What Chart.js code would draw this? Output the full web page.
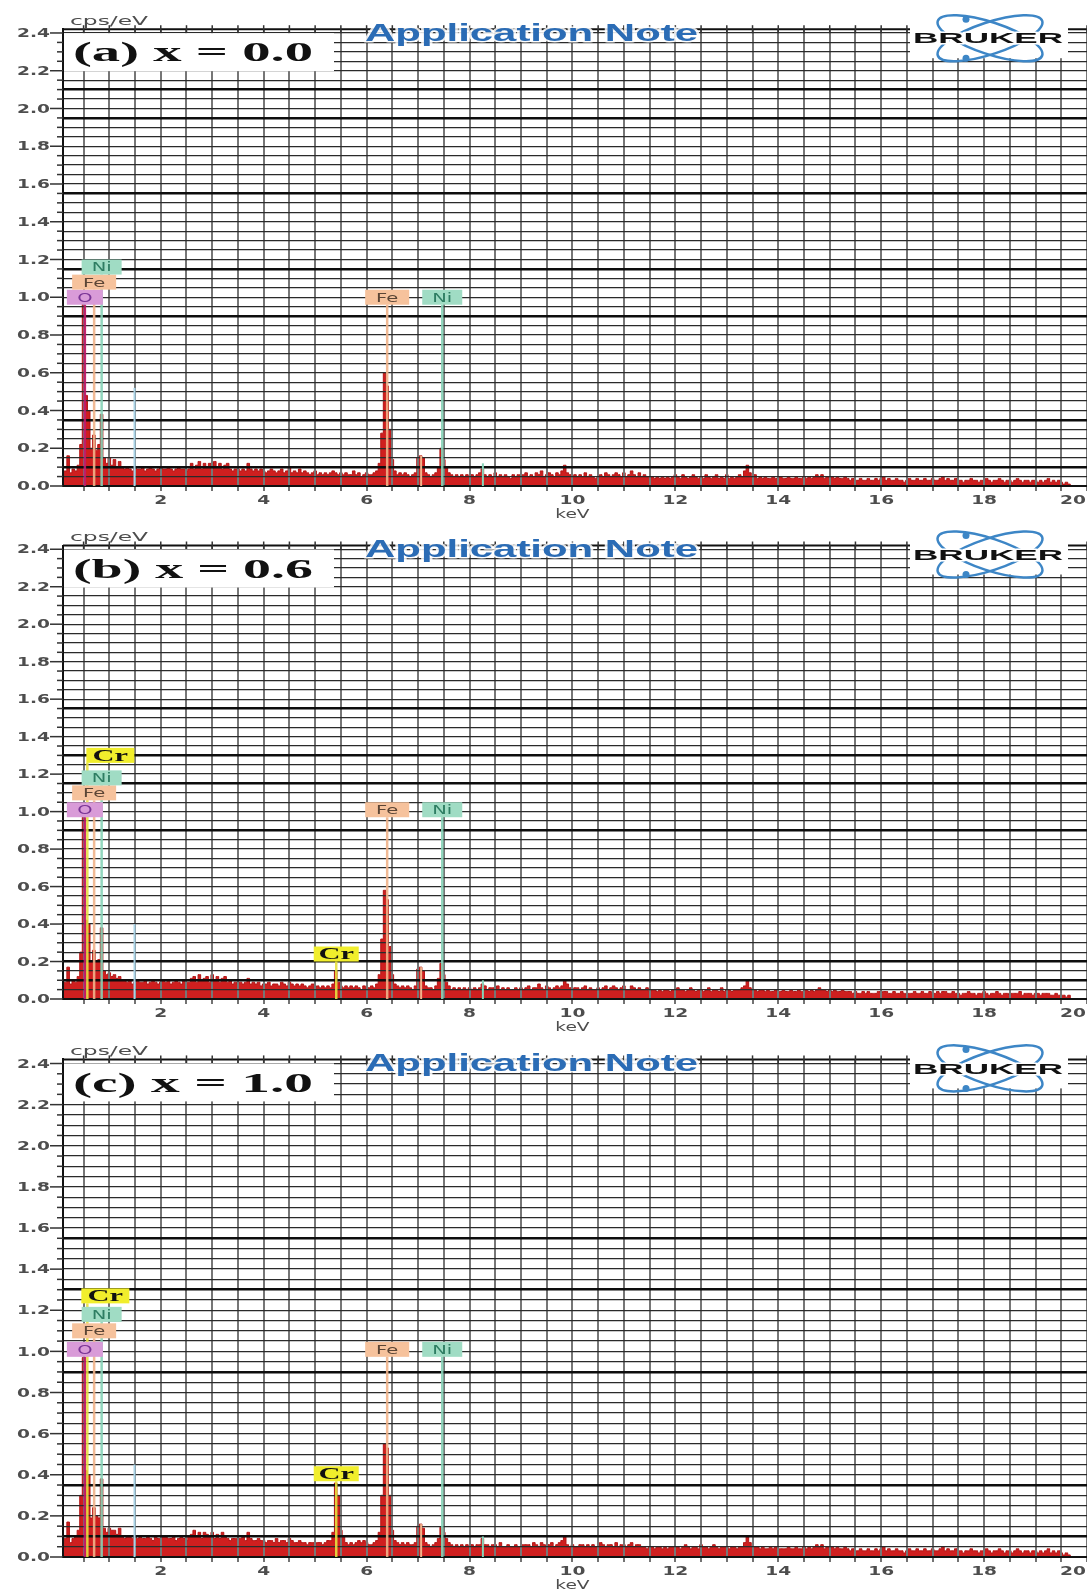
<!DOCTYPE html>
<html><head><meta charset="utf-8">
<script src="https://cdn.jsdelivr.net/npm/chart.js@4.4.0/dist/chart.umd.min.js"></script>
<style>
html,body{margin:0;padding:0;background:#fff;width:1087px;height:1595px;overflow:hidden;}
.panel{position:absolute;left:0;width:1087px;}
</style></head><body>
<div class="panel" style="top:0;height:522px"><canvas id="ca"></canvas></div>
<div class="panel" style="top:516px;height:519px"><canvas id="cb"></canvas></div>
<div class="panel" style="top:1030px;height:563px"><canvas id="cc"></canvas></div>
<script>
// ---------------- DATA ----------------
const energyKeV = [
0.1,0.15,0.2,0.25,0.3,0.35,0.4,0.45,0.5,0.55,0.6,0.65,0.7,0.75,0.8,0.85,0.9,0.95,1,1.05,
1.1,1.15,1.2,1.25,1.3,1.35,1.4,1.45,1.5,1.55,1.6,1.65,1.7,1.75,1.8,1.85,1.9,1.95,2,2.05,
2.1,2.15,2.2,2.25,2.3,2.35,2.4,2.45,2.5,2.55,2.6,2.65,2.7,2.75,2.8,2.85,2.9,2.95,3,3.05,
3.1,3.15,3.2,3.25,3.3,3.35,3.4,3.45,3.5,3.55,3.6,3.65,3.7,3.75,3.8,3.85,3.9,3.95,4,4.05,
4.1,4.15,4.2,4.25,4.3,4.35,4.4,4.45,4.5,4.55,4.6,4.65,4.7,4.75,4.8,4.85,4.9,4.95,5,5.05,
5.1,5.15,5.2,5.25,5.3,5.35,5.4,5.45,5.5,5.55,5.6,5.65,5.7,5.75,5.8,5.85,5.9,5.95,6,6.05,
6.1,6.15,6.2,6.25,6.3,6.35,6.4,6.45,6.5,6.55,6.6,6.65,6.7,6.75,6.8,6.85,6.9,6.95,7,7.05,
7.1,7.15,7.2,7.25,7.3,7.35,7.4,7.45,7.5,7.55,7.6,7.65,7.7,7.75,7.8,7.85,7.9,7.95,8,8.05,
8.1,8.15,8.2,8.25,8.3,8.35,8.4,8.45,8.5,8.55,8.6,8.65,8.7,8.75,8.8,8.85,8.9,8.95,9,9.05,
9.1,9.15,9.2,9.25,9.3,9.35,9.4,9.45,9.5,9.55,9.6,9.65,9.7,9.75,9.8,9.85,9.9,9.95,10,10.05,
10.1,10.15,10.2,10.25,10.3,10.35,10.4,10.45,10.5,10.55,10.6,10.65,10.7,10.75,10.8,10.85,10.9,10.95,11,11.05,
11.1,11.15,11.2,11.25,11.3,11.35,11.4,11.45,11.5,11.55,11.6,11.65,11.7,11.75,11.8,11.85,11.9,11.95,12,12.05,
12.1,12.15,12.2,12.25,12.3,12.35,12.4,12.45,12.5,12.55,12.6,12.65,12.7,12.75,12.8,12.85,12.9,12.95,13,13.05,
13.1,13.15,13.2,13.25,13.3,13.35,13.4,13.45,13.5,13.55,13.6,13.65,13.7,13.75,13.8,13.85,13.9,13.95,14,14.05,
14.1,14.15,14.2,14.25,14.3,14.35,14.4,14.45,14.5,14.55,14.6,14.65,14.7,14.75,14.8,14.85,14.9,14.95,15,15.05,
15.1,15.15,15.2,15.25,15.3,15.35,15.4,15.45,15.5,15.55,15.6,15.65,15.7,15.75,15.8,15.85,15.9,15.95,16,16.05,
16.1,16.15,16.2,16.25,16.3,16.35,16.4,16.45,16.5,16.55,16.6,16.65,16.7,16.75,16.8,16.85,16.9,16.95,17,17.05,
17.1,17.15,17.2,17.25,17.3,17.35,17.4,17.45,17.5,17.55,17.6,17.65,17.7,17.75,17.8,17.85,17.9,17.95,18,18.05,
18.1,18.15,18.2,18.25,18.3,18.35,18.4,18.45,18.5,18.55,18.6,18.65,18.7,18.75,18.8,18.85,18.9,18.95,19,19.05,
19.1,19.15,19.2,19.25,19.3,19.35,19.4,19.45,19.5,19.55,19.6,19.65,19.7
];
const countsA = [
0.05,0.08,0.16,0.07,0.09,0.08,0.11,0.22,0.97,0.48,0.40,0.20,0.27,0.19,0.22,0.38,0.15,0.12,0.15,0.11,
0.14,0.10,0.13,0.10,0.09,0.10,0.09,0.08,0.10,0.09,0.09,0.10,0.08,0.09,0.10,0.09,0.08,0.09,0.10,0.09,
0.09,0.10,0.09,0.08,0.09,0.10,0.09,0.09,0.08,0.09,0.12,0.09,0.11,0.13,0.09,0.12,0.10,0.12,0.09,0.13,
0.10,0.12,0.09,0.11,0.12,0.09,0.08,0.09,0.09,0.08,0.09,0.08,0.12,0.09,0.08,0.09,0.08,0.09,0.08,0.07,
0.08,0.09,0.08,0.07,0.08,0.09,0.07,0.08,0.10,0.07,0.08,0.07,0.09,0.07,0.08,0.07,0.06,0.07,0.08,0.06,
0.07,0.06,0.07,0.06,0.07,0.08,0.07,0.06,0.07,0.06,0.07,0.06,0.06,0.08,0.06,0.07,0.05,0.06,0.07,0.06,
0.06,0.07,0.08,0.12,0.28,0.60,0.53,0.30,0.14,0.08,0.06,0.07,0.06,0.07,0.06,0.05,0.06,0.07,0.15,0.16,
0.15,0.07,0.06,0.05,0.06,0.07,0.10,0.20,0.14,0.10,0.07,0.06,0.05,0.06,0.05,0.06,0.05,0.06,0.05,0.06,
0.05,0.06,0.07,0.09,0.06,0.05,0.06,0.05,0.07,0.05,0.06,0.05,0.06,0.05,0.04,0.06,0.05,0.06,0.05,0.06,
0.07,0.05,0.06,0.05,0.07,0.06,0.08,0.05,0.06,0.07,0.06,0.05,0.07,0.06,0.08,0.11,0.07,0.06,0.05,0.06,
0.05,0.06,0.05,0.07,0.05,0.06,0.05,0.04,0.05,0.06,0.05,0.07,0.06,0.05,0.06,0.07,0.06,0.05,0.07,0.05,
0.06,0.08,0.06,0.05,0.07,0.05,0.06,0.05,0.04,0.05,0.04,0.05,0.04,0.05,0.04,0.05,0.04,0.05,0.06,0.05,
0.04,0.06,0.05,0.04,0.05,0.06,0.05,0.04,0.05,0.04,0.06,0.05,0.04,0.05,0.06,0.04,0.05,0.04,0.06,0.04,
0.05,0.04,0.05,0.06,0.05,0.08,0.11,0.07,0.05,0.06,0.04,0.05,0.04,0.05,0.04,0.04,0.05,0.04,0.04,0.05,
0.04,0.04,0.05,0.04,0.04,0.05,0.04,0.04,0.05,0.04,0.05,0.04,0.05,0.06,0.05,0.06,0.04,0.05,0.04,0.05,
0.04,0.05,0.04,0.04,0.05,0.04,0.03,0.04,0.03,0.03,0.04,0.03,0.03,0.04,0.03,0.03,0.04,0.03,0.04,0.05,
0.03,0.04,0.03,0.03,0.04,0.03,0.03,0.02,0.03,0.04,0.03,0.03,0.04,0.03,0.03,0.04,0.03,0.03,0.04,0.03,
0.03,0.04,0.05,0.03,0.04,0.03,0.03,0.04,0.03,0.03,0.02,0.03,0.03,0.04,0.03,0.03,0.02,0.03,0.03,0.04,
0.03,0.02,0.03,0.03,0.04,0.03,0.02,0.03,0.03,0.02,0.03,0.04,0.03,0.02,0.03,0.03,0.02,0.03,0.03,0.02,
0.03,0.02,0.03,0.04,0.02,0.03,0.02,0.03,0.02,0.01,0.02,0.01,0
];
const countsB = [
0.06,0.09,0.17,0.08,0.10,0.09,0.12,0.25,0.97,0.42,0.40,0.20,0.26,0.20,0.21,0.38,0.15,0.13,0.14,0.12,
0.13,0.11,0.12,0.10,0.10,0.09,0.10,0.08,0.09,0.10,0.09,0.09,0.10,0.08,0.09,0.10,0.09,0.08,0.09,0.10,
0.09,0.10,0.08,0.09,0.10,0.09,0.08,0.10,0.09,0.09,0.11,0.12,0.09,0.13,0.10,0.11,0.12,0.09,0.13,0.10,
0.12,0.09,0.11,0.12,0.09,0.10,0.08,0.09,0.08,0.09,0.08,0.09,0.11,0.08,0.09,0.08,0.09,0.07,0.08,0.08,
0.09,0.07,0.08,0.08,0.07,0.09,0.08,0.07,0.09,0.08,0.07,0.08,0.07,0.08,0.07,0.06,0.07,0.08,0.06,0.07,
0.06,0.07,0.06,0.07,0.06,0.08,0.15,0.09,0.07,0.06,0.07,0.06,0.07,0.06,0.07,0.06,0.05,0.07,0.06,0.06,
0.07,0.06,0.08,0.13,0.32,0.58,0.53,0.28,0.13,0.08,0.07,0.06,0.07,0.06,0.07,0.06,0.05,0.07,0.16,0.17,
0.15,0.07,0.06,0.06,0.05,0.07,0.11,0.19,0.13,0.09,0.07,0.05,0.06,0.05,0.06,0.05,0.06,0.05,0.06,0.05,
0.06,0.05,0.06,0.08,0.07,0.05,0.06,0.06,0.05,0.07,0.05,0.06,0.05,0.06,0.05,0.05,0.06,0.05,0.06,0.05,
0.06,0.07,0.05,0.06,0.06,0.08,0.06,0.05,0.07,0.06,0.05,0.06,0.07,0.06,0.07,0.10,0.08,0.06,0.05,0.06,
0.06,0.05,0.06,0.07,0.05,0.06,0.05,0.05,0.06,0.05,0.06,0.07,0.05,0.06,0.07,0.06,0.05,0.06,0.07,0.05,
0.05,0.07,0.06,0.05,0.06,0.05,0.05,0.06,0.04,0.05,0.05,0.04,0.05,0.04,0.05,0.05,0.04,0.05,0.05,0.06,
0.05,0.05,0.04,0.05,0.06,0.05,0.04,0.05,0.05,0.04,0.05,0.06,0.04,0.05,0.05,0.04,0.06,0.04,0.05,0.05,
0.04,0.05,0.05,0.05,0.06,0.07,0.10,0.06,0.05,0.05,0.04,0.05,0.05,0.04,0.05,0.04,0.04,0.05,0.04,0.04,
0.05,0.04,0.04,0.05,0.04,0.04,0.05,0.04,0.04,0.05,0.04,0.05,0.04,0.05,0.06,0.05,0.05,0.04,0.05,0.04,
0.05,0.04,0.04,0.05,0.04,0.04,0.04,0.03,0.04,0.03,0.03,0.04,0.03,0.04,0.03,0.03,0.03,0.04,0.03,0.04,
0.04,0.03,0.03,0.04,0.03,0.03,0.04,0.03,0.02,0.03,0.03,0.04,0.03,0.03,0.04,0.03,0.03,0.04,0.03,0.03,
0.04,0.03,0.04,0.04,0.03,0.03,0.04,0.03,0.03,0.02,0.03,0.03,0.04,0.03,0.03,0.02,0.03,0.03,0.04,0.03,
0.02,0.03,0.03,0.04,0.03,0.02,0.03,0.03,0.02,0.03,0.03,0.03,0.04,0.02,0.03,0.03,0.03,0.02,0.03,0.03,
0.02,0.03,0.03,0.03,0.02,0.02,0.03,0.02,0.02,0.02,0.01,0.02,0
];
const countsC = [
0.06,0.09,0.17,0.07,0.09,0.10,0.13,0.30,0.97,0.42,0.40,0.19,0.24,0.20,0.19,0.38,0.14,0.12,0.14,0.13,
0.13,0.11,0.14,0.10,0.09,0.10,0.10,0.09,0.10,0.09,0.10,0.09,0.09,0.10,0.09,0.08,0.10,0.09,0.09,0.10,
0.10,0.09,0.09,0.10,0.08,0.09,0.10,0.09,0.08,0.10,0.11,0.13,0.10,0.12,0.09,0.12,0.11,0.10,0.12,0.09,
0.11,0.09,0.12,0.10,0.09,0.08,0.09,0.09,0.08,0.09,0.10,0.08,0.12,0.09,0.08,0.08,0.09,0.08,0.08,0.07,
0.08,0.08,0.07,0.09,0.07,0.08,0.08,0.07,0.09,0.08,0.07,0.07,0.08,0.07,0.07,0.06,0.07,0.07,0.06,0.07,
0.07,0.06,0.07,0.08,0.08,0.12,0.36,0.30,0.13,0.10,0.07,0.06,0.07,0.06,0.07,0.08,0.07,0.08,0.07,0.06,
0.06,0.07,0.08,0.12,0.30,0.55,0.53,0.30,0.13,0.08,0.07,0.06,0.07,0.06,0.07,0.06,0.06,0.07,0.15,0.16,
0.14,0.07,0.06,0.05,0.06,0.07,0.09,0.145,0.12,0.09,0.07,0.06,0.05,0.06,0.05,0.06,0.05,0.06,0.05,0.06,
0.05,0.06,0.06,0.09,0.06,0.06,0.05,0.06,0.06,0.05,0.07,0.05,0.05,0.06,0.05,0.05,0.06,0.05,0.05,0.06,
0.06,0.06,0.05,0.07,0.06,0.05,0.07,0.06,0.05,0.06,0.07,0.05,0.06,0.07,0.08,0.10,0.06,0.05,0.06,0.05,
0.05,0.06,0.06,0.05,0.06,0.05,0.06,0.05,0.05,0.07,0.06,0.05,0.06,0.06,0.05,0.07,0.05,0.06,0.06,0.05,
0.06,0.07,0.05,0.06,0.06,0.05,0.05,0.04,0.05,0.05,0.04,0.05,0.05,0.04,0.05,0.04,0.05,0.05,0.05,0.05,
0.04,0.05,0.06,0.05,0.04,0.05,0.05,0.04,0.06,0.05,0.05,0.04,0.05,0.06,0.05,0.04,0.05,0.05,0.05,0.04,
0.05,0.05,0.04,0.05,0.05,0.07,0.10,0.07,0.05,0.05,0.05,0.04,0.05,0.04,0.04,0.05,0.04,0.05,0.04,0.04,
0.04,0.04,0.05,0.04,0.04,0.05,0.04,0.04,0.05,0.04,0.05,0.04,0.05,0.06,0.05,0.06,0.04,0.05,0.04,0.05,
0.04,0.05,0.04,0.04,0.05,0.04,0.03,0.04,0.03,0.03,0.04,0.03,0.03,0.04,0.03,0.03,0.04,0.03,0.04,0.05,
0.03,0.04,0.03,0.03,0.04,0.03,0.03,0.02,0.03,0.04,0.03,0.03,0.04,0.03,0.03,0.04,0.03,0.03,0.04,0.03,
0.03,0.04,0.05,0.03,0.04,0.03,0.03,0.04,0.03,0.03,0.02,0.03,0.03,0.04,0.03,0.03,0.02,0.03,0.03,0.04,
0.03,0.02,0.03,0.03,0.04,0.03,0.02,0.03,0.03,0.02,0.03,0.04,0.03,0.02,0.03,0.03,0.02,0.03,0.03,0.02,
0.03,0.02,0.03,0.04,0.02,0.03,0.02,0.03,0.02,0.01,0.02,0.01,0
];
const panelTitles = ['(a) x = 0.0', '(b) x = 0.6', '(c) x = 1.0'];
const yTickValues = [0,0.2,0.4,0.6,0.8,1.0,1.2,1.4,1.6,1.8,2.0,2.2,2.4];
const yTickLabels = ['0.0','0.2','0.4','0.6','0.8','1.0','1.2','1.4','1.6','1.8','2.0','2.2','2.4'];
const xTickValues = [2,4,6,8,10,12,14,16,18,20];
const xTickLabels = ['2','4','6','8','10','12','14','16','18','20'];
const yUnit = 'cps/eV';
const xUnit = 'keV';
const watermark = 'Application Note';
const logoText = 'BRUKER';

const markerElA = ['O','Fe','Ni','Fe','Ni'];
const markerKeVA = [0.525,0.705,0.851,6.40,7.47];
const markerLevelA = [1.00,1.08,1.16,1.00,1.00];
const markerElB = ['O','Fe','Ni','Cr','Fe','Ni','Cr'];
const markerKeVB = [0.525,0.705,0.851,0.573,6.40,7.47,5.41];
const markerLevelB = [1.01,1.10,1.18,1.30,1.01,1.01,0.24];
const markerElC = ['O','Fe','Ni','Cr','Fe','Ni','Cr'];
const markerKeVC = [0.525,0.705,0.851,0.573,6.40,7.47,5.41];
const markerLevelC = [1.01,1.10,1.18,1.27,1.01,1.01,0.405];
const minorLineKeV = [1.49,7.06,8.26];
const minorLineTopA = [0.52,0.16,0.12];
const minorLineTopB = [0.40,0.17,0.10];
const minorLineTopC = [0.45,0.16,0.10];

// ---------------- STYLE ----------------
const elementStyle = {
  O:  {box:'#d99bd8', text:'#7a3596', line:'#c2196a', w:36, font:'13px "DejaVu Sans"', sx:1.5},
  Fe: {box:'#f6c29c', text:'#5b4535', line:'#efb38a', w:44, font:'13px "DejaVu Sans"', sx:1.5},
  Ni: {box:'#a0dcc4', text:'#2e7d62', line:'#86d3b7', w:40, font:'13px "DejaVu Sans"', sx:1.5},
  Cr: {box:'#f1ee2c', text:'#111111', line:'#e6e040', w:48, font:'bold 16px "Liberation Serif"', sx:1.9}
};
const minorLineColors = ['#a9d3e6','#efb38a','#86d3b7'];
const tickFont = 'bold 12px "DejaVu Sans"';
const tickColor = '#4d4d4d';
const TX = 1.55;

function scaledText(ctx, text, x, yMid, font, color, sx, align) {
  ctx.save();
  ctx.font = font;
  const w = ctx.measureText(text).width * sx;
  const x0 = align === 'right' ? x - w : (align === 'center' ? x - w / 2 : x);
  ctx.translate(x0, yMid); ctx.scale(sx, 1);
  ctx.textAlign = 'left'; ctx.textBaseline = 'middle';
  ctx.fillStyle = color; ctx.fillText(text, 0, 0);
  ctx.restore();
  return w;
}
function fitText(ctx, text, x0, x1, yMid, font, color, stroke, strokeW) {
  ctx.save();
  ctx.font = font;
  const w = ctx.measureText(text).width;
  const sx = (x1 - x0) / w;
  ctx.translate(x0, yMid); ctx.scale(sx, 1);
  ctx.textAlign = 'left'; ctx.textBaseline = 'middle';
  if (stroke) { ctx.strokeStyle = stroke; ctx.lineWidth = strokeW; ctx.lineJoin = 'round'; ctx.strokeText(text, 0, 0); }
  ctx.fillStyle = color; ctx.fillText(text, 0, 0);
  ctx.restore();
}
function seg(ctx, x0, y0, x1, y1, color, w) {
  ctx.beginPath(); ctx.moveTo(x0, y0); ctx.lineTo(x1, y1);
  ctx.strokeStyle = color; ctx.lineWidth = w; ctx.stroke();
}

const decorPlugin = {
  id: 'decor',
  afterDraw(chart, args, o) {
    const ctx = chart.ctx, xs = chart.scales.x, ys = chart.scales.y, a = chart.chartArea;
    const T = a.top, B = a.bottom, L = a.left, R = a.right;
    ctx.save();
    // minor (unlabelled) element lines
    for (let i = 0; i < minorLineKeV.length; i++) {
      const px = xs.getPixelForValue(minorLineKeV[i]);
      seg(ctx, px, B, px, ys.getPixelForValue(o.minorTop[i]), minorLineColors[i], 2);
    }
    // element marker lines
    const boxH = 15;
    for (let i = 0; i < o.els.length; i++) {
      const st = elementStyle[o.els[i]];
      const px = xs.getPixelForValue(o.keV[i]);
      const py = ys.getPixelForValue(o.levels[i]) + boxH / 2;
      ctx.globalAlpha = 0.9;
      seg(ctx, px, B, px, py, st.line, 2.5);
      ctx.globalAlpha = 1;
    }
    // element label boxes
    for (let i = 0; i < o.els.length; i++) {
      const st = elementStyle[o.els[i]];
      const cx = xs.getPixelForValue(o.keV[i]) + (o.shift[i] || 0);
      const cy = ys.getPixelForValue(o.levels[i]);
      const w = (o.els[i] === 'Cr' && o.keV[i] > 2) ? 45 : st.w;
      ctx.fillStyle = st.box;
      ctx.fillRect(cx - w / 2, cy - boxH / 2, w, boxH);
      scaledText(ctx, o.els[i], cx, cy + 1, st.font, st.text, st.sx, 'center');
    }
    // top border and top ticks
    seg(ctx, L, T, R, T, '#111', 2);
    xs.ticks.forEach(t => { const px = xs.getPixelForValue(t.value); seg(ctx, px, T - 4, px, T + 4, '#333', 1.5); });
    // title box
    ctx.fillStyle = '#fff';
    ctx.fillRect(L + 1, T + 4, 270, 38);
    fitText(ctx, o.title, L + 10, L + 250, T + 25, 'bold 28px "Liberation Serif"', '#111');
    // Application Note
    fitText(ctx, watermark, 365, 698, T + 5, 'bold 23px "Liberation Sans"', '#2b6cb5', 'rgba(255,255,255,0.85)', 3);
    // Bruker logo
    ctx.fillStyle = '#fff';
    ctx.fillRect(910, T - 9, 158, 38);
    const lx = 990, ly = T + 9;
    ctx.strokeStyle = '#3d86c6'; ctx.lineWidth = 2.5;
    ctx.beginPath(); ctx.ellipse(lx, ly, 55, 16, 0.32, 0, Math.PI * 2); ctx.stroke();
    ctx.beginPath(); ctx.ellipse(lx, ly, 55, 16, -0.32, 0, Math.PI * 2); ctx.stroke();
    ctx.fillStyle = '#3d86c6';
    ctx.beginPath(); ctx.arc(966, T - 10, 3.5, 0, Math.PI * 2); ctx.fill();
    ctx.beginPath(); ctx.arc(966, T + 29, 3.5, 0, Math.PI * 2); ctx.fill();
    fitText(ctx, logoText, 913, 1063, ly + 1, 'bold 15px "Liberation Sans"', '#111', '#fff', 3);
    // y unit
    fitText(ctx, yUnit, 70, 148, T - 8, '13px "DejaVu Sans"', '#4d4d4d');
    // y tick marks and labels
    ys.ticks.forEach(t => {
      const py = ys.getPixelForValue(t.value);
      const major = Math.round(t.value * 100) % 20 === 0;
      seg(ctx, L - (major ? 13 : 6), py, L, py, '#333', 1.5);
    });
    for (let i = 0; i < yTickValues.length; i++) {
      const py = ys.getPixelForValue(yTickValues[i]);
      scaledText(ctx, yTickLabels[i], 50, py + 1, tickFont, tickColor, TX, 'right');
    }
    // x tick labels
    ctx.font = tickFont;
    for (let i = 0; i < xTickValues.length; i++) {
      let px = xs.getPixelForValue(xTickValues[i]);
      const w = ctx.measureText(xTickLabels[i]).width * TX;
      px = Math.min(px, chart.width - w / 2 - 1);
      scaledText(ctx, xTickLabels[i], px, B + 15, tickFont, tickColor, TX, 'center');
    }
    scaledText(ctx, xUnit, xs.getPixelForValue(10), B + 29, '12px "DejaVu Sans"', tickColor, TX, 'center');
    ctx.restore();
  }
};

function makeChart(id, counts, cfg) {
  const pts = energyKeV.map((e, i) => ({x: e, y: counts[i]}));
  return new Chart(document.getElementById(id), {
    type: 'line',
    data: {datasets: [{
      data: pts, stepped: 'middle', fill: 'origin',
      backgroundColor: '#cf1f1f', borderColor: '#b31616', borderWidth: 1,
      pointRadius: 0, tension: 0
    }]},
    options: {
      responsive: true, maintainAspectRatio: false, animation: false, devicePixelRatio: 1,
      layout: {padding: {top: cfg.padTop, left: 0, right: 0, bottom: 0}},
      plugins: {legend: {display: false}, tooltip: {enabled: false}, decor: cfg},
      scales: {
        x: {
          type: 'linear', min: 0.1, max: 20,
          ticks: {display: false, stepSize: 0.5, includeBounds: false},
          grid: {z: 1, color: '#767676', lineWidth: 2, drawTicks: true, tickLength: 5, tickColor: '#444', tickWidth: 1.5},
          border: {display: true, color: '#111', width: 2, z: 2},
          afterFit(s) { s.height = 36; }
        },
        y: {
          min: 0, max: 2.42,
          ticks: {display: false, stepSize: 0.05, includeBounds: false},
          grid: {
            z: 1, drawTicks: false,
            color: c => cfg.thick.includes(Math.round(c.tick.value * 100)) ? '#0d0d0d' : '#2a2a2a',
            lineWidth: c => cfg.thick.includes(Math.round(c.tick.value * 100)) ? 2.6 : 1.3
          },
          border: {display: true, color: '#111', width: 2, z: 2},
          afterFit(s) { s.width = 63; }
        }
      }
    },
    plugins: [decorPlugin]
  });
}

makeChart('ca', countsA, {padTop: 29.2, title: panelTitles[0], els: markerElA, keV: markerKeVA, levels: markerLevelA,
  shift: [0,0,0,0,0], minorTop: minorLineTopA, thick: [10,35,90,115,155,195,210]});
makeChart('cb', countsB, {padTop: 29.5, title: panelTitles[1], els: markerElB, keV: markerKeVB, levels: markerLevelB,
  shift: [0,0,0,23,0,0,0], minorTop: minorLineTopB, thick: [10,20,90,115,130,155]});
makeChart('cc', countsC, {padTop: 29.4, title: panelTitles[2], els: markerElC, keV: markerKeVC, levels: markerLevelC,
  shift: [0,0,0,18,0,0,0], minorTop: minorLineTopC, thick: [10,35,90,130,155]});
</script>
</body></html>
